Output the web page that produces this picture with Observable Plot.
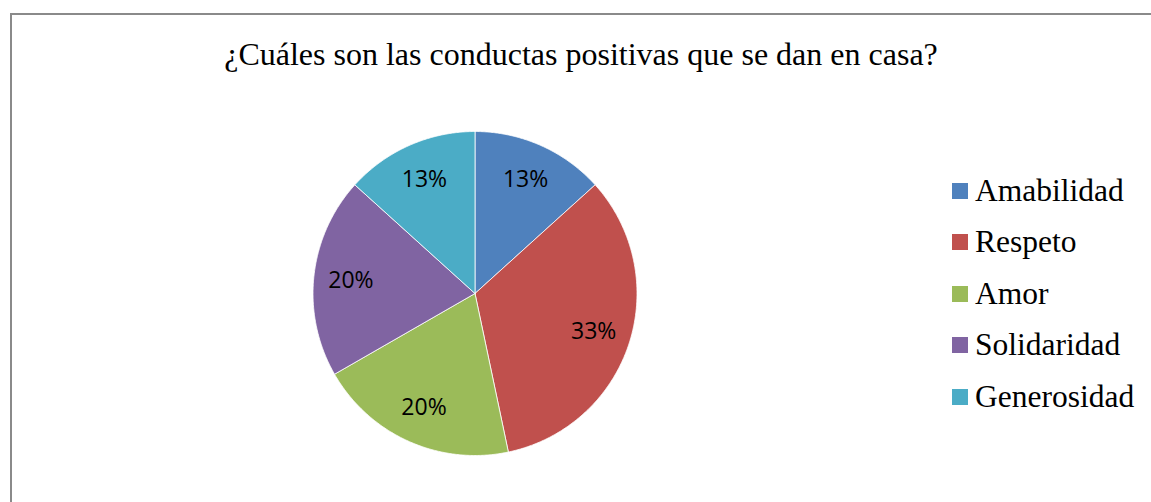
<!DOCTYPE html>
<html>
<head>
<meta charset="utf-8">
<script src="https://cdn.jsdelivr.net/npm/d3@7"></script>
<script src="https://cdn.jsdelivr.net/npm/@observablehq/plot@0.6"></script>
<style>
  html, body { margin: 0; padding: 0; background: #fff; }
  body { width: 1151px; height: 502px; overflow: hidden; position: relative; }
  #frame { position: absolute; left: 10px; top: 13px; width: 1300px; height: 600px;
           border-top: 2px solid #8a8a8a; border-left: 2px solid #8a8a8a; }
  #title { position: absolute; left: 0; width: 1162px; top: 38px; text-align: center;
           font-family: "Liberation Serif", "Times New Roman", serif; font-size: 32px; line-height: 32px; color: #000; white-space: nowrap; }
  #chart { position: absolute; left: 0; top: 0; }
  #legend { position: absolute; left: 952px; top: 165px; font-family: "Liberation Serif", "Times New Roman", serif; font-size: 31.5px; color: #000; }
  .item { height: 51.5px; display: flex; align-items: center; white-space: nowrap; }
  .sw { width: 16px; height: 16px; margin-right: 7px; flex: none; }
</style>
</head>
<body>
<div id="frame"></div>
<div id="title"></div>
<div id="chart"></div>
<div id="legend"></div>
<script>
const title = "¿Cuáles son las conductas positivas que se dan en casa?";
const categories = ["Amabilidad", "Respeto", "Amor", "Solidaridad", "Generosidad"];
const values = [13.3, 33.4, 20, 20, 13.3];
const colors = ["#4F81BD", "#C0504D", "#9BBB59", "#8064A2", "#4BACC6"];

const total = d3.sum(values);
const slices = [];
const labels = [];
let cum = 0;
values.forEach((v, i) => {
  const a0 = cum / total * 2 * Math.PI;
  const a1 = (cum + v) / total * 2 * Math.PI;
  cum += v;
  const pts = [{x: 0, y: 0}];
  const n = Math.max(2, Math.ceil((a1 - a0) / (Math.PI / 360)));
  for (let k = 0; k <= n; k++) {
    const a = a0 + (a1 - a0) * k / n;
    pts.push({x: Math.sin(a), y: Math.cos(a)});
  }
  pts.push({x: 0, y: 0});
  slices.push({cat: categories[i], color: colors[i], pts});
  const am = (a0 + a1) / 2;
  labels.push({x: 0.77 * Math.sin(am), y: 0.77 * Math.cos(am), text: Math.round(v / total * 100) + "%"});
});

const cx = 474.5, cy = 293, R = 162;
const chart = Plot.plot({
  width: 1151,
  height: 502,
  margin: 0,
  x: {domain: [-1, 1], range: [cx - R, cx + R], axis: null},
  y: {domain: [-1, 1], range: [cy + R, cy - R], axis: null},
  marks: [
    ...slices.map(s => Plot.line(s.pts, {x: "x", y: "y", fill: s.color, stroke: "#fff", strokeWidth: 0.8, strokeLinejoin: "round"})),
    Plot.text(labels, {x: "x", y: "y", text: "text", fontSize: 23, fontFamily: "Open Sans", fill: "#000"})
  ]
});
chart.style.background = "transparent";
document.getElementById("chart").appendChild(chart);
document.getElementById("title").textContent = title;

const legend = document.getElementById("legend");
categories.forEach((c, i) => {
  const item = document.createElement("div");
  item.className = "item";
  const sw = document.createElement("span");
  sw.className = "sw";
  sw.style.background = colors[i];
  const t = document.createElement("span");
  t.textContent = c;
  item.appendChild(sw);
  item.appendChild(t);
  legend.appendChild(item);
});
</script>
</body>
</html>
